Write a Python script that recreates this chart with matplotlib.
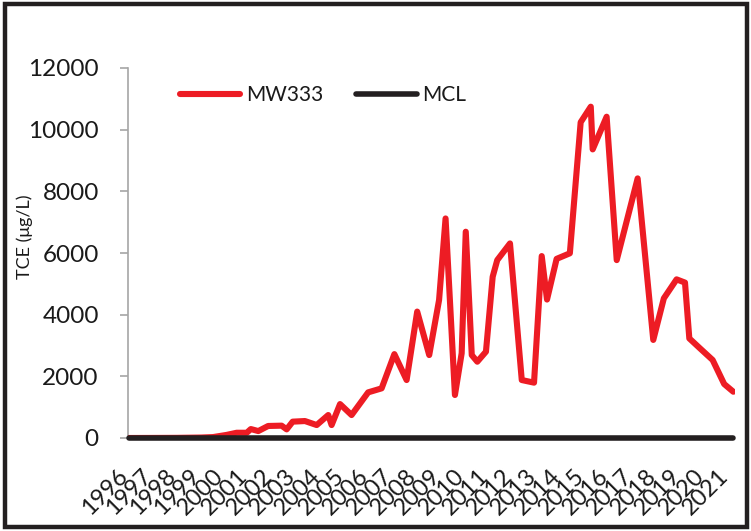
import matplotlib
matplotlib.use("Agg")
import matplotlib.pyplot as plt
from matplotlib.patches import Rectangle

# ---- data ----
years = [1996.0, 1997.0, 1998.0, 1998.5, 1999.0, 1999.5, 2000.06, 2000.48, 2000.90,
         2001.07, 2001.38, 2001.79, 2002.35, 2002.56, 2002.81, 2003.32, 2003.81,
         2004.29, 2004.43, 2004.78, 2005.26, 2005.95, 2006.51, 2007.04, 2007.55,
         2007.99, 2008.49, 2008.90, 2009.17, 2009.56, 2009.84, 2010.01, 2010.26,
         2010.49, 2010.85, 2011.13, 2011.32, 2011.85, 2012.34, 2012.85, 2013.17,
         2013.39, 2013.79, 2014.34, 2014.79, 2015.21, 2015.29, 2015.87, 2016.29,
         2017.16, 2017.81, 2018.25, 2018.78, 2019.13, 2019.31, 2019.75, 2020.28,
         2020.76, 2021.14]
mw333 = [0, 2, 5, 10, 15, 30, 100, 170, 170,
         290, 225, 390, 400, 280, 530, 550, 420,
         745, 420, 1100, 745, 1480, 1610, 2720, 1880,
         4100, 2690, 4475, 7120, 1395, 2750, 6690, 2690,
         2475, 2800, 5230, 5770, 6310, 1880, 1795, 5900,
         4490, 5810, 5990, 10240, 10745, 9360, 10420, 5770,
         8420, 3180, 4530, 5145, 5040, 3230, 2910, 2530,
         1750, 1500]
mcl_years = [1996.0, 2021.14]
mcl = [5, 5]
tick_years = list(range(1996, 2022))
tick_labels = [str(y) for y in tick_years]
y_ticks = [0, 2000, 4000, 6000, 8000, 10000, 12000]

plt.rcParams['font.family'] = ['Lato', 'DejaVu Sans']

W, H = 751, 531
fig = plt.figure(figsize=(W / 100, H / 100), dpi=100)
ax = fig.add_axes([128 / W, 1 - 438 / H, (735 - 128) / W, (438 - 68) / H])

red = '#ED1C24'
blk = '#231F20'
ax.plot(years, mw333, color=red, lw=4.4, solid_capstyle='round',
        solid_joinstyle='round', label='MW333', zorder=3)
ax.plot(mcl_years, mcl, color=blk, lw=4.0, solid_capstyle='round',
        label='MCL', zorder=4, clip_on=False)

ax.set_xlim(1995.96, 2021.21)
ax.set_ylim(0, 12000)
ax.set_yticks(y_ticks)
ax.set_yticklabels([str(v) for v in y_ticks])
ax.tick_params(axis='y', direction='out', length=6, width=1.2, color='#A6A6A6',
               labelsize=17.5, pad=15, labelcolor='#1a1a1a')
ax.set_xticks(tick_years)
ax.set_xticklabels(tick_labels, rotation=45, ha='right', va='baseline',
                   rotation_mode='anchor', fontsize=17, color='#1a1a1a')
ax.tick_params(axis='x', length=0, pad=28)

for s in ['top', 'right', 'bottom']:
    ax.spines[s].set_visible(False)
ax.spines['left'].set_color('#A6A6A6')
ax.spines['left'].set_linewidth(1.2)

fig.text(25 / W, 1 - 237 / H, 'TCE (μg/L)', rotation=90, ha='center', va='center',
         fontsize=13, color='#1a1a1a')

leg = ax.legend(loc='center left', bbox_to_anchor=(180 / W, 1 - 95 / H),
                bbox_transform=fig.transFigure, ncol=2, frameon=False,
                fontsize=15, handlelength=2.9, handletextpad=0.25,
                columnspacing=1.6, borderpad=0, borderaxespad=0)
for t in leg.get_texts():
    t.set_color('#1a1a1a')

fig.patches.append(Rectangle((5 / W, 4 / H), 742 / W, 523 / H, transform=fig.transFigure,
                             fill=False, edgecolor=blk, linewidth=3.2))

fig.savefig('out.png', dpi=100)
